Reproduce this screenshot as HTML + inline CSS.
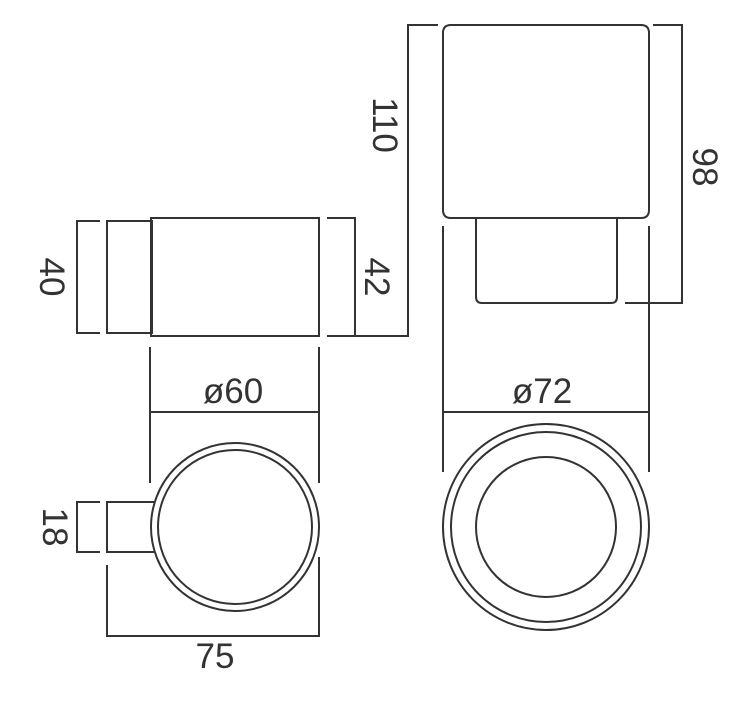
<!DOCTYPE html>
<html><head><meta charset="utf-8"><style>
html,body{margin:0;padding:0;background:#fff;}
svg{display:block}
text{font-family:"Liberation Sans Narrow","Liberation Sans",sans-serif;font-size:35px;fill:#333;}
</style></head><body>
<svg width="746" height="720" viewBox="0 0 746 720" xmlns="http://www.w3.org/2000/svg">
<g fill="none" stroke="#333" stroke-width="2">
<!-- side view left -->
<path d="M100 221 H77 V333 H100"/>
<rect x="107" y="221" width="45" height="112"/>
<rect x="151" y="218" width="168" height="118"/>
<path d="M327 218 H355 V336 H327"/>
<path d="M355 336 H408 V25 H438"/>
<!-- cup side -->
<path d="M451 25 H641 Q649 25 649 33 V210 Q649 218 641 218 H451 Q443 218 443 210 V33 Q443 25 451 25 Z"/>
<path d="M476 218 V297 Q476 303 482 303 H611 Q617 303 617 297 V218"/>
<path d="M653 25 H682 V303 H625"/>
<path d="M443 226 V472 M649 226 V472"/>
<path d="M443 412 H649"/>
<!-- left bottom -->
<path d="M150 347 V483 M319 347 V483 M150 412 H319"/>
<circle cx="235" cy="527" r="84"/>
<circle cx="235" cy="527" r="77"/>
<path d="M154 502 H107 V552 H154"/>
<path d="M100 502 H77 V552 H100"/>
<path d="M107 565 V636 H319 V557"/>
<!-- right bottom -->
<circle cx="546" cy="527" r="103"/>
<circle cx="546" cy="527" r="95"/>
<circle cx="546" cy="527" r="70"/>
</g>
<text x="233" y="403" text-anchor="middle">ø60</text>
<text x="542" y="403" text-anchor="middle">ø72</text>
<text x="215" y="668" text-anchor="middle">75</text>
<text transform="translate(385,125) rotate(90)" text-anchor="middle" dy="12">110</text>
<text transform="translate(377,277) rotate(90)" text-anchor="middle" dy="12">42</text>
<text transform="translate(52,277) rotate(90)" text-anchor="middle" dy="12">40</text>
<text transform="translate(705,167) rotate(90)" text-anchor="middle" dy="12">98</text>
<text transform="translate(55,527) rotate(90)" text-anchor="middle" dy="12">18</text>
</svg>
</body></html>
